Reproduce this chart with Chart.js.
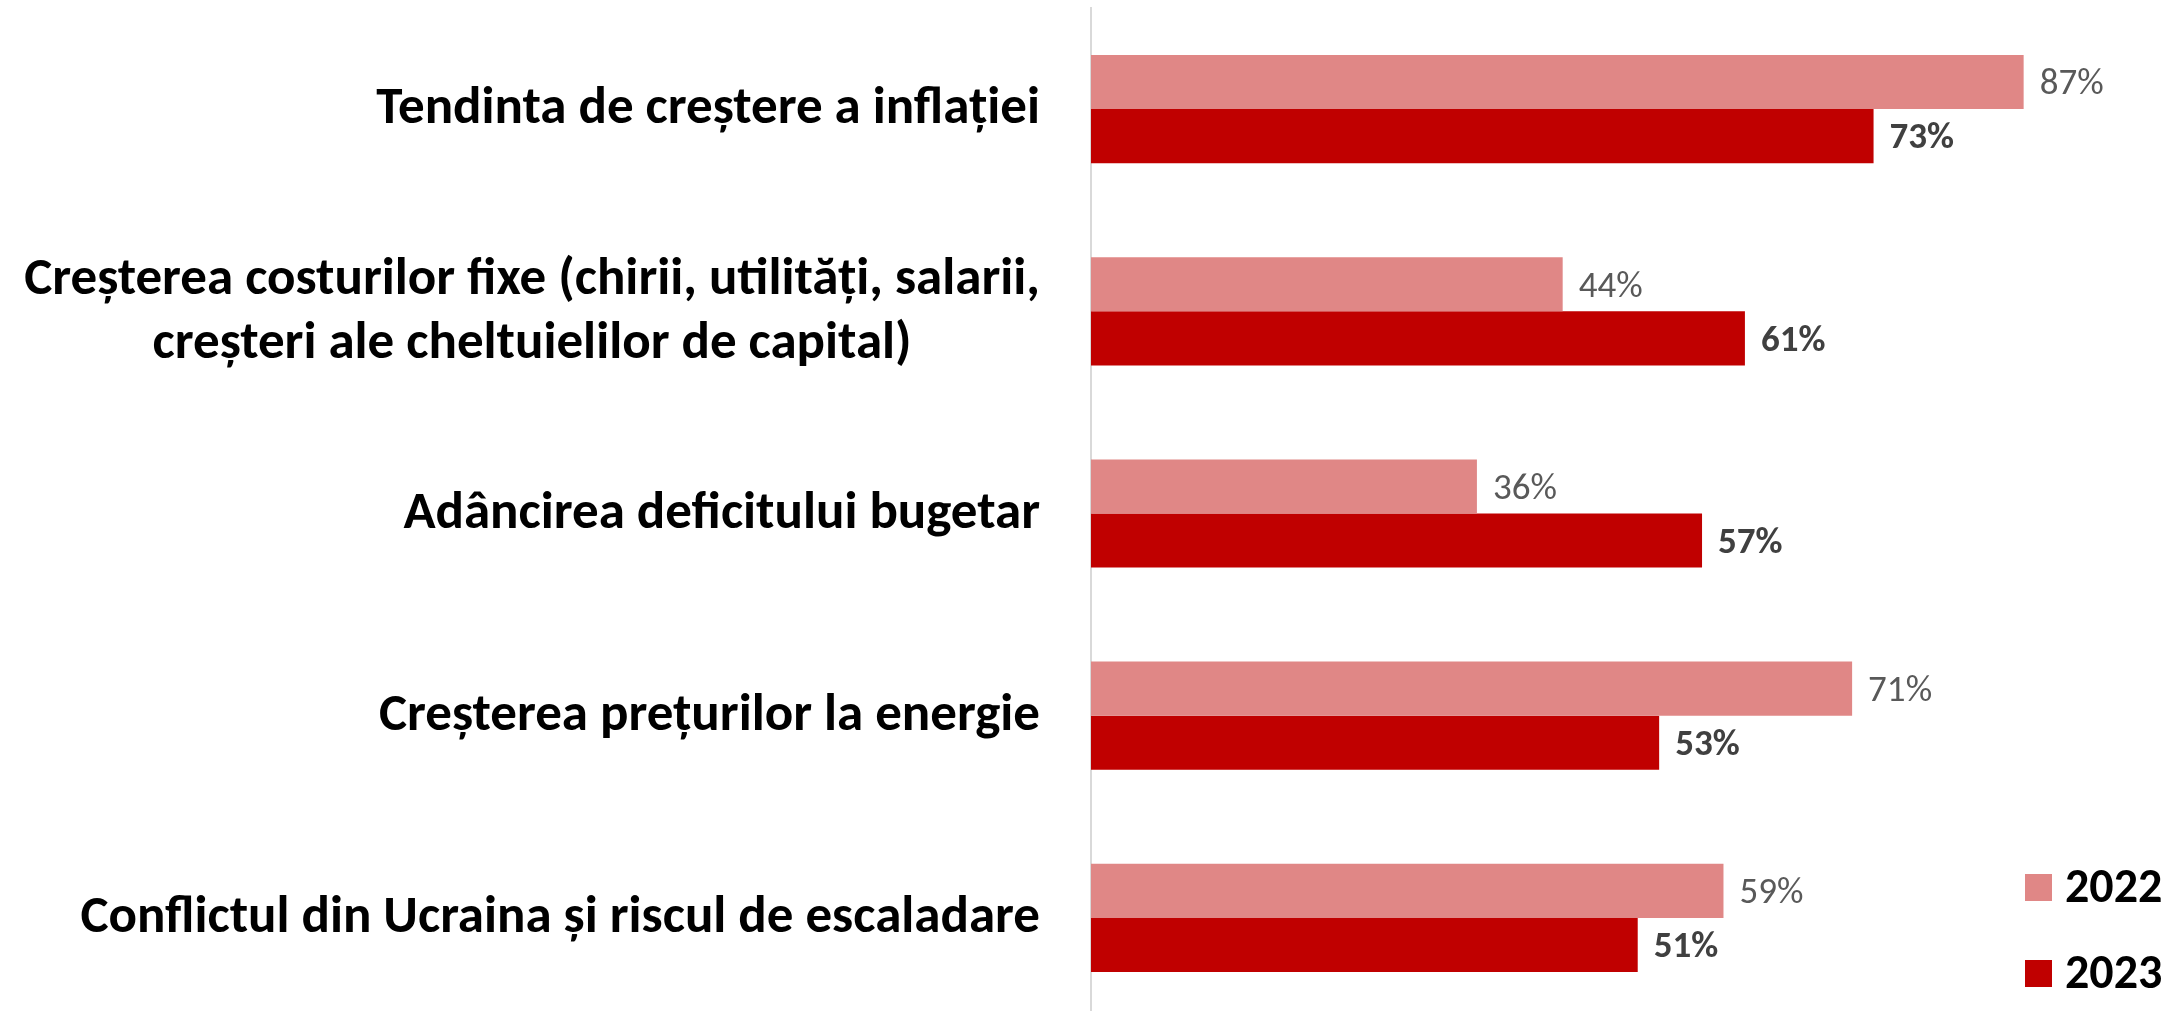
<!DOCTYPE html>
<html>
<head>
<meta charset="utf-8">
<script src="https://cdn.jsdelivr.net/npm/chart.js@4.4.0/dist/chart.umd.min.js"></script>
<style>
  html, body { margin: 0; padding: 0; background: #fff; overflow: hidden; }
  #wrap { width: 2179px; height: 1020px; }
</style>
</head>
<body>
<div id="wrap"><canvas id="riscuri-chart" width="2179" height="1020"></canvas></div>
<script>
// Categoriile (fiecare element = liniile etichetei)
var categorii = [
  ["Tendinta de creștere a inflației"],
  ["Creșterea costurilor fixe (chirii, utilități, salarii,", "creșteri ale cheltuielilor de capital)"],
  ["Adâncirea deficitului bugetar"],
  ["Creșterea prețurilor la energie"],
  ["Conflictul din Ucraina și riscul de escaladare"]
];

// Valorile pe ani (%)
var valori2022 = [87, 44, 36, 71, 59];
var valori2023 = [73, 61, 57, 53, 51];

var ani = ["2022", "2023"];
var culori = ["#E08786", "#C00000"];

var FONT = "Calibri, Carlito, Lato, sans-serif";

// Etichetele de categorie, centrate pe linii si aliniate la dreapta
var eticheteY = {
  id: "eticheteY",
  afterDraw: function (chart) {
    var ctx = chart.ctx;
    var y = chart.scales.y;
    var dreapta = chart.chartArea.left - 51;
    ctx.save();
    ctx.font = "bold 53px " + FONT;
    ctx.fillStyle = "#000";
    ctx.textBaseline = "middle";
    ctx.textAlign = "center";
    categorii.forEach(function (linii, i) {
      var latime = 0;
      linii.forEach(function (l) { latime = Math.max(latime, ctx.measureText(l).width); });
      var cx = dreapta - latime / 2;
      var cy = y.getPixelForTick(i);
      var pas = 64;
      var start = cy - (linii.length - 1) * pas / 2;
      linii.forEach(function (l, k) { ctx.fillText(l, cx, start + k * pas + 1); });
    });
    ctx.restore();
  }
};

// Procentele de la capatul barelor
var etichetePct = {
  id: "etichetePct",
  afterDatasetsDraw: function (chart) {
    var ctx = chart.ctx;
    ctx.save();
    ctx.textBaseline = "middle";
    ctx.textAlign = "left";
    chart.data.datasets.forEach(function (ds, d) {
      var meta = chart.getDatasetMeta(d);
      ctx.font = (d === 1 ? "bold " : "") + "37px " + FONT;
      ctx.fillStyle = d === 1 ? "#404040" : "#595959";
      meta.data.forEach(function (bar, i) {
        ctx.fillText(ds.data[i] + "%", bar.x + 16, bar.y + 3);
      });
    });
    ctx.restore();
  }
};

// Legenda din coltul din dreapta jos
var legenda = {
  id: "legenda",
  afterDraw: function (chart) {
    var ctx = chart.ctx;
    ctx.save();
    ctx.font = "bold 48px " + FONT;
    ctx.textBaseline = "middle";
    chart.data.datasets.forEach(function (ds, d) {
      var y = 888 + d * 86;
      ctx.fillStyle = ds.backgroundColor;
      ctx.fillRect(2025, y - 14, 27, 27);
      ctx.fillStyle = "#000";
      ctx.fillText(ds.label, 2065, y + 2);
    });
    ctx.restore();
  }
};

var ctx = document.getElementById("riscuri-chart").getContext("2d");

var chart = new Chart(ctx, {
  type: "bar",
  data: {
    labels: categorii,
    datasets: [
      { label: ani[0], data: valori2022, backgroundColor: culori[0] },
      { label: ani[1], data: valori2023, backgroundColor: culori[1] }
    ]
  },
  options: {
    indexAxis: "y",
    responsive: false,
    animation: false,
    devicePixelRatio: 1,
    categoryPercentage: 0.535,
    barPercentage: 1.0,
    layout: { padding: { top: 8, right: 16, bottom: 1, left: 0 } },
    plugins: {
      legend: { display: false },
      tooltip: { enabled: false }
    },
    scales: {
      x: {
        display: false,
        min: 0,
        max: 100
      },
      y: {
        grid: { display: false },
        border: { display: true, color: "#D9D9D9", width: 2 },
        ticks: { display: false },
        afterFit: function (scale) { scale.width = 1091; }
      }
    }
  },
  plugins: [eticheteY, etichetePct, legenda]
});
</script>
</body>
</html>
